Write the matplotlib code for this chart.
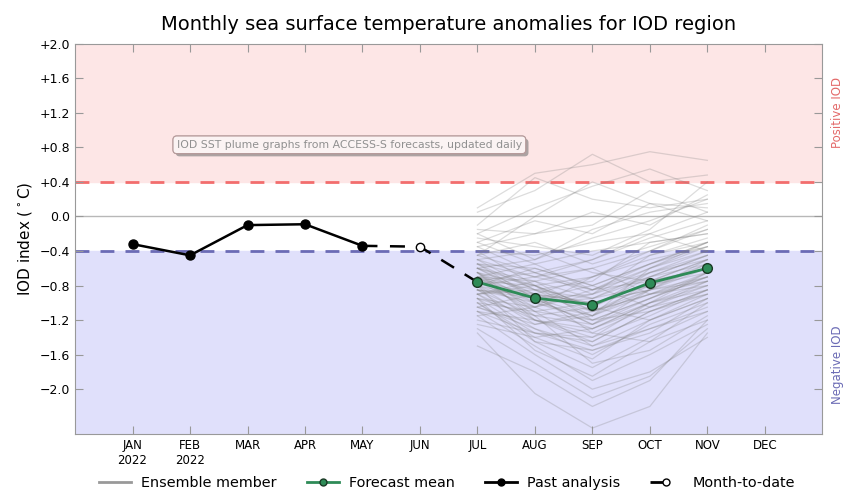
import numpy as np
import matplotlib
matplotlib.use('Agg')
import matplotlib.pyplot as plt
import matplotlib.patheffects as pe
from matplotlib.lines import Line2D

# ---------------------------------------------------------------- data
month_labels = ['JAN\n2022', 'FEB\n2022', 'MAR', 'APR', 'MAY', 'JUN',
                'JUL', 'AUG', 'SEP', 'OCT', 'NOV', 'DEC']

past_months = [0, 1, 2, 3, 4]
past_values = [-0.32, -0.45, -0.10, -0.09, -0.34]

mtd_month = 5
mtd_value = -0.35

fc_months = [6, 7, 8, 9, 10]
fc_mean = [-0.76, -0.945, -1.02, -0.77, -0.60]

# ensemble members, one value per member for each forecast month
ens_jul = [0.10, 0.05, -0.10, -0.20, -0.30, -0.35, -0.40, -0.45, -0.50, -0.55,
           -0.55, -0.60, -0.60, -0.65, -0.65, -0.70, -0.70, -0.75, -0.75, -0.80,
           -0.80, -0.80, -0.85, -0.85, -0.90, -0.90, -0.95, -0.95, -1.00, -1.00,
           -1.05, -1.05, -1.10, -1.10, -1.15, -1.20, -1.30, -1.50, -1.35, -0.70,
           -0.50, -0.45, -0.60, -0.75, -0.85, -0.65, -0.90, -0.55, -1.00, -0.80,
           -0.70, -0.95, -0.40, -0.30, -1.15, -0.25, -0.15, -0.85, -1.25, -0.60,
           -0.70, -0.75, -0.65, -0.80, -0.90, -0.55, -0.70, -1.05, -0.60, -0.85,
           -0.95, -0.50, -0.75, -1.10, -0.65, -0.45, -0.20, -0.35, -0.80, -0.90]
ens_aug = [0.50, 0.30, 0.45, 0.10, -0.05, -0.20, -0.45, -0.30, -0.70, -0.60,
           -0.85, -0.75, -0.90, -0.80, -1.00, -0.95, -1.05, -0.65, -1.10, -0.95,
           -1.20, -0.70, -1.00, -1.15, -1.30, -0.85, -1.05, -1.35, -1.10, -1.45,
           -0.90, -1.25, -1.50, -1.20, -1.60, -1.35, -1.70, -1.80, -2.05, -0.55,
           -0.40, -0.65, -0.50, -0.80, -1.25, -1.10, -0.75, -0.95, -1.40, -0.60,
           -1.15, -1.55, -0.80, -0.55, -1.05, -0.35, -0.20, -0.90, -1.40, -0.80,
           -0.85, -1.00, -0.90, -1.05, -1.20, -0.70, -0.75, -1.30, -0.95, -0.95,
           -1.15, -0.85, -0.90, -1.35, -1.20, 0.00, -0.50, -0.65, -1.45, -0.80]
ens_sep = [0.60, 0.72, 0.20, 0.35, -0.20, 0.05, -0.30, -0.55, -0.60, -0.80,
           -0.75, -0.95, -1.10, -0.70, -1.20, -0.90, -1.30, -0.85, -1.00, -1.15,
           -1.45, -0.50, -0.95, -1.25, -1.60, -1.05, -0.85, -1.40, -1.20, -1.75,
           -1.00, -1.10, -1.90, -1.35, -2.00, -1.55, -2.10, -2.20, -2.45, -0.40,
           -0.65, -0.90, -0.15, -1.05, -1.15, -1.50, -0.60, -1.25, -1.30, -0.80,
           -1.70, -1.85, -1.05, -0.85, -0.70, -0.45, -0.10, -1.35, -1.65, -1.20,
           -0.95, -1.15, -1.00, -0.90, -1.30, -0.85, -1.10, -1.50, -0.80, -1.25,
           -1.05, -1.15, -0.70, -1.45, -1.40, 0.40, -0.25, -0.50, -1.55, -1.10]
ens_oct = [0.75, 0.40, 0.10, 0.55, 0.15, -0.10, -0.20, -0.35, -0.40, -0.55,
           -0.30, -0.70, -0.85, -0.50, -0.95, -0.60, -1.00, -0.75, -0.80, -0.90,
           -1.10, -0.25, -0.65, -0.85, -1.25, -0.70, -0.55, -1.15, -0.95, -1.40,
           -0.85, -0.80, -1.60, -1.05, -1.80, -1.30, -1.85, -1.90, -2.20, -0.30,
           -0.75, -0.45, 0.05, -1.20, -0.60, -1.30, -0.90, -0.95, -1.00, -1.05,
           -1.55, -1.45, -0.65, -0.60, -0.40, -0.15, 0.30, -1.45, -1.20, -1.10,
           -0.80, -0.75, -0.85, -0.70, -1.05, -0.65, -0.90, -1.20, -0.55, -1.00,
           -0.75, -0.85, -0.45, -1.10, -1.00, 0.15, -0.05, -0.20, -1.35, -0.90]
ens_nov = [0.65, 0.48, 0.20, 0.30, 0.10, 0.25, 0.05, -0.15, -0.10, -0.30,
           -0.20, -0.45, -0.55, -0.35, -0.70, -0.40, -0.80, -0.60, -0.65, -0.75,
           -0.90, -0.05, -0.50, -0.60, -1.00, -0.45, -0.30, -0.85, -0.70, -1.10,
           -0.75, -0.55, -1.25, -0.80, -1.40, -1.05, -1.30, -1.20, -1.35, -0.20,
           -0.50, -0.25, 0.15, -0.95, -0.35, -1.10, -0.70, -0.65, -0.85, -0.90,
           -1.15, -1.00, -0.40, -0.30, -0.15, 0.40, 0.05, -1.20, -0.95, -0.85,
           -0.60, -0.50, -0.70, -0.55, -0.75, -0.45, -0.80, -0.90, -0.35, -0.75,
           -0.60, -0.50, -0.30, -0.85, -0.65, -0.05, 0.20, -0.40, -0.95, -0.65]

y_ticks = [2.0, 1.6, 1.2, 0.8, 0.4, 0.0, -0.4, -0.8, -1.2, -1.6, -2.0]

# ---------------------------------------------------------------- plot
fig = plt.figure(figsize=(8.53, 5.03), dpi=100)
ax = fig.add_axes([0.088, 0.137, 0.876, 0.776])

xmin, xmax = -1, 12
ymin, ymax = -2.52, 2.0
ax.set_xlim(xmin, xmax)
ax.set_ylim(ymin, ymax)

# IOD phase shading
ax.axhspan(0.4, ymax, color='#fde6e6', zorder=0)
ax.axhspan(ymin, -0.4, color='#e0e0fb', zorder=0)
ax.axhline(0.4, color='#f26d6d', linestyle=(0, (5, 4)), linewidth=2, zorder=1)
ax.axhline(-0.4, color='#6b6bb5', linestyle=(0, (5, 4)), linewidth=2, zorder=1)
ax.axhline(0.0, color='#b8b8b8', linewidth=1, zorder=1)

# ensemble plume
ens = np.array([ens_jul, ens_aug, ens_sep, ens_oct, ens_nov])
for k in range(ens.shape[1]):
    ax.plot(fc_months, ens[:, k], color='#808080', alpha=0.27,
            linewidth=0.9, zorder=2)

# past analysis / month-to-date / forecast mean
ax.plot([past_months[-1], mtd_month, fc_months[0]],
        [past_values[-1], mtd_value, fc_mean[0]],
        color='black', linestyle=(0, (6, 5)), linewidth=1.8, zorder=3)
ax.plot(past_months, past_values, '-o', color='black', linewidth=1.8,
        markersize=6.5, zorder=4)
ax.plot(mtd_month, mtd_value, 'o', color='black', markerfacecolor='white',
        markersize=6, zorder=4)
ax.plot(fc_months, fc_mean, '-o', color='#2e8b57', linewidth=2,
        markerfacecolor='#2e8b57', markeredgecolor='#1a3a25',
        markersize=7, zorder=5)

# axes styling
ax.set_xticks(range(12))
ax.set_xticklabels(month_labels, fontsize=8.5)
ax.set_yticks(y_ticks)
ax.set_yticklabels(['+%.1f' % v if v > 0 else ('0.0' if v == 0 else '\u2212%.1f' % -v)
                    for v in y_ticks], fontsize=9)
ax.tick_params(direction='in', color='#999999', length=6, top=True, right=True)
for s in ax.spines.values():
    s.set_color('#999999')
ax.set_ylabel('IOD index ($^\\circ$C)', fontsize=11)
ax.set_title('Monthly sea surface temperature anomalies for IOD region',
             fontsize=14, pad=10)

ax.text(12.15, 1.2, 'Positive IOD', rotation=90, color='#e36a6a',
        fontsize=8.5, ha='left', va='center')
ax.text(12.15, -1.72, 'Negative IOD', rotation=90, color='#6b6bb5',
        fontsize=8.5, ha='left', va='center')

t = ax.text(0.77, 0.83, 'IOD SST plume graphs from ACCESS-S forecasts, updated daily',
            fontsize=7.8, color='#909090', ha='left', va='center', zorder=6,
            bbox=dict(boxstyle='round,pad=0.35', facecolor='#fbf3f3',
                      edgecolor='#b59a9a', linewidth=0.8))
t.get_bbox_patch().set_path_effects([
    pe.withSimplePatchShadow(offset=(2, -2), shadow_rgbFace='#777777', alpha=0.6),
    pe.Normal()])

handles = [
    Line2D([], [], color='#999999', linewidth=2),
    Line2D([], [], color='#2e8b57', linewidth=2, marker='o', markersize=5,
           markerfacecolor='#2e8b57', markeredgecolor='#1a3a25'),
    Line2D([], [], color='black', linewidth=2, marker='o', markersize=5),
    Line2D([], [], color='black', linewidth=2, linestyle=(0, (4.6, 60)),
           marker='o', markersize=5, markerfacecolor='white'),
]
labels = ['Ensemble member', 'Forecast mean', 'Past analysis', 'Month-to-date']
fig.legend(handles, labels, loc='center', ncol=4, frameon=False,
           bbox_to_anchor=(0.524, 0.04), fontsize=10.4, handlelength=2.2,
           handletextpad=0.7, columnspacing=2.1, numpoints=1)

fig.savefig('out.png', dpi=100)
